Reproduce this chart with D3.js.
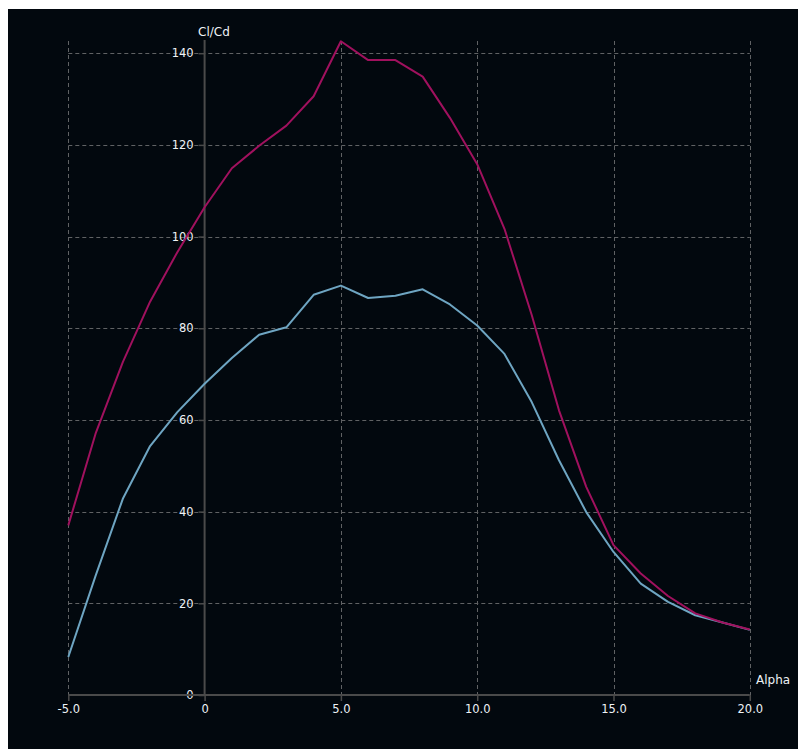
<!DOCTYPE html>
<html>
<head>
<meta charset="utf-8">
<script src="https://cdn.jsdelivr.net/npm/d3@7"></script>
<style>
  html, body { margin: 0; padding: 0; background: #ffffff; }
  svg { display: block; }
</style>
</head>
<body>
<div id="chart"></div>
<script>
// angle of attack, degrees
const alpha = [-5, -4, -3, -2, -1, 0, 1, 2, 3, 4, 5, 6, 7, 8, 9, 10, 11, 12, 13, 14, 15, 16, 17, 18, 19, 20];

// Cl/Cd polars
const clcdUpper = [37.0, 57.0, 72.6, 85.8, 96.6, 106.4, 114.9, 119.8, 124.2, 130.6, 142.6, 138.5, 138.5, 134.9, 125.9, 115.8, 101.7, 82.9, 62.1, 45.4, 32.7, 26.5, 21.6, 17.8, 15.8, 14.3];
const clcdLower = [8.3, 26.0, 42.8, 54.3, 61.7, 67.9, 73.5, 78.6, 80.2, 87.3, 89.3, 86.6, 87.1, 88.5, 85.2, 80.6, 74.4, 63.9, 51.2, 39.9, 31.2, 24.3, 20.3, 17.4, 15.8, 14.2];

const xTicks = [-5, 0, 5, 10, 15, 20];
const yTicks = [0, 20, 40, 60, 80, 100, 120, 140];

let width = 798,
	height = 749;

let svg = d3.select('#chart')
	.append('svg')
	.attr('width', width)
	.attr('height', height);

// dark panel
svg.append('rect')
	.attr('x', 8)
	.attr('y', 9)
	.attr('width', width - 8)
	.attr('height', height - 9)
	.attr('fill', '#02080e');

let x = d3.scaleLinear().domain([-5, 20]).range([68.3, 749.8]);
let y = d3.scaleLinear().domain([0, 140]).range([695, 53.2]);

// dashed grid
let grid = svg.append('g')
	.attr('stroke', '#606264')
	.attr('stroke-width', 1)
	.attr('stroke-dasharray', '4,3');

grid.selectAll('line.v')
	.data(xTicks.filter(d => d !== 0))
	.enter()
	.append('line')
	.attr('x1', d => Math.round(x(d)) + 0.5)
	.attr('x2', d => Math.round(x(d)) + 0.5)
	.attr('y1', 41)
	.attr('y2', y(0));

grid.selectAll('line.h')
	.data(yTicks.filter(d => d !== 0))
	.enter()
	.append('line')
	.attr('x1', x(-5))
	.attr('x2', x(20))
	.attr('y1', d => Math.round(y(d)) + 0.5)
	.attr('y2', d => Math.round(y(d)) + 0.5);

// axes through the origin
let axisColor = '#4a4a4a';
let labelColor = '#eef2f6';

// plain hyphen for negatives, one decimal except at zero
let fmtX = d => d === 0 ? '0' : d.toFixed(1);

let xAxis = svg.append('g')
	.attr('transform', 'translate(0,' + y(0) + ')')
	.call(d3.axisBottom(x)
		.tickValues(xTicks)
		.tickSize(6)
		.tickPadding(4)
		.tickFormat(fmtX));

let yAxis = svg.append('g')
	.attr('transform', 'translate(' + x(0) + ',0)')
	.call(d3.axisLeft(y)
		.tickValues(yTicks)
		.tickSize(6)
		.tickPadding(5)
		.tickFormat(d => String(d)));

[xAxis, yAxis].forEach(function (a) {
	a.select('.domain').remove();
	a.selectAll('.tick line').attr('stroke', axisColor).attr('stroke-width', 1.5);
	a.selectAll('.tick text')
		.attr('fill', labelColor)
		.style('font-family', '"DejaVu Sans", sans-serif')
		.style('font-size', '11.5px');
});

svg.append('line')
	.attr('x1', x(-5)).attr('x2', x(20))
	.attr('y1', y(0)).attr('y2', y(0))
	.attr('stroke', axisColor).attr('stroke-width', 2);

svg.append('line')
	.attr('x1', x(0)).attr('x2', x(0))
	.attr('y1', 40).attr('y2', y(0))
	.attr('stroke', axisColor).attr('stroke-width', 2);

// axis titles
svg.append('text')
	.attr('x', 198)
	.attr('y', 36)
	.attr('fill', labelColor)
	.style('font-family', '"DejaVu Sans", sans-serif')
	.style('font-size', '12px')
	.text('Cl/Cd');

svg.append('text')
	.attr('x', 756)
	.attr('y', 684)
	.attr('fill', labelColor)
	.style('font-family', '"DejaVu Sans", sans-serif')
	.style('font-size', '12px')
	.text('Alpha');

// curves
let line = d3.line()
	.x(d => x(d[0]))
	.y(d => y(d[1]));

let series = [
	{ values: clcdLower, color: '#6ea5c2' },
	{ values: clcdUpper, color: '#a0115e' }
];

svg.selectAll('path.curve')
	.data(series)
	.enter()
	.append('path')
	.attr('class', 'curve')
	.attr('d', s => line(alpha.map((a, i) => [a, s.values[i]])))
	.attr('fill', 'none')
	.attr('stroke', s => s.color)
	.attr('stroke-width', 2)
	.attr('stroke-linejoin', 'round');
</script>
</body>
</html>
